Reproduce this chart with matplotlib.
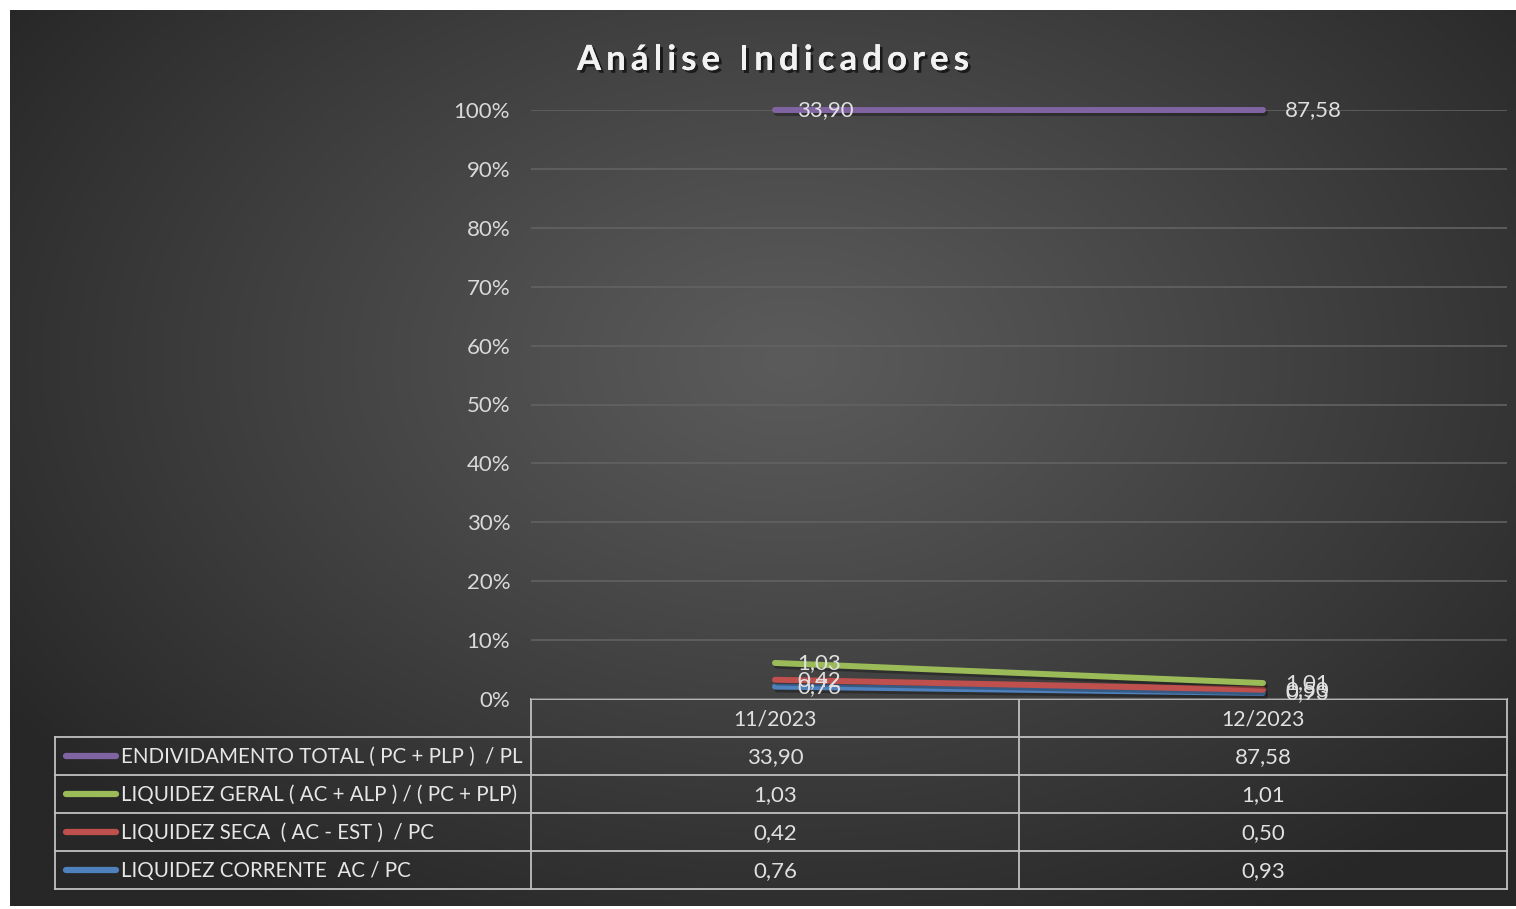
import numpy as np
import matplotlib
matplotlib.use('Agg')
import matplotlib.pyplot as plt
import matplotlib.patheffects as pe
import matplotlib.transforms as mtransforms
from matplotlib.textpath import TextPath
from matplotlib.font_manager import FontProperties

# ---------------- data ----------------
categories = ['11/2023', '12/2023']
series_names = [
    'ENDIVIDAMENTO TOTAL ( PC + PLP )  / PL',
    'LIQUIDEZ GERAL ( AC + ALP ) / ( PC + PLP)',
    'LIQUIDEZ SECA  ( AC - EST )  / PC',
    'LIQUIDEZ CORRENTE  AC / PC',
]
endividamento_total = [33.90, 87.58]
liquidez_geral = [1.03, 1.01]
liquidez_seca = [0.42, 0.50]
liquidez_corrente = [0.76, 0.93]
y_tick_values = [0, 10, 20, 30, 40, 50, 60, 70, 80, 90, 100]
title = 'Análise Indicadores'

series_values = [endividamento_total, liquidez_geral, liquidez_seca, liquidez_corrente]
series_colors = ['#8064a2', '#9bbb59', '#c0504d', '#4f81bd']

FONT = ['Lato', 'DejaVu Sans']
plt.rcParams['font.family'] = FONT

W, H = 1516, 909
fig = plt.figure(figsize=(W / 100, H / 100), dpi=100)
fig.patch.set_facecolor('white')

# background axes in pixel coords (y down)
bg = fig.add_axes([0, 0, 1, 1])
bg.set_xlim(0, W)
bg.set_ylim(H, 0)
bg.axis('off')

gx0, gx1, gy0, gy1 = 10, 1516, 10, 906
nx, ny = 400, 240
xx, yy = np.meshgrid(np.linspace(gx0, gx1, nx), np.linspace(gy0, gy1, ny))
r = np.sqrt(((xx - 790) / 950) ** 2 + ((yy - 360) / 640) ** 2)
r = np.clip(r, 0, 1)
light, dark = 0x5b / 255, 0x27 / 255
val = light - (light - dark) * r ** 1.1
img = np.dstack([val, val, val])
bg.imshow(img, extent=(gx0, gx1, gy1, gy0), aspect='auto', interpolation='bilinear', zorder=0)

# ---------------- main plot ----------------
px_left, px_right, px_top, px_bottom = 531, 1507, 110, 699
ax = fig.add_axes([px_left / W, 1 - px_bottom / H, (px_right - px_left) / W, (px_bottom - px_top) / H])
ax.set_facecolor('none')
ax.set_xlim(-0.5, len(categories) - 0.5)
ax.set_ylim(0, 1)
for s in ax.spines.values():
    s.set_visible(False)
ax.set_xticks([])
ax.set_yticks([v / 100 for v in y_tick_values])
ax.set_yticklabels([f'{v}%' for v in y_tick_values])
ax.tick_params(axis='y', length=0, pad=15, labelsize=16, labelcolor='#d9d9d9')
ax.grid(axis='y', color='#626262', lw=1.2)
ax.set_axisbelow(True)

# 100% stacked line chart: stack from the bottom series upward
x = np.arange(len(categories))
vals = np.array(series_values[::-1], dtype=float)  # corrente, seca, geral, endividamento
totals = vals.sum(axis=0)
cum = np.cumsum(vals, axis=0) / totals
colors_bottom_up = series_colors[::-1]

shadow = [pe.SimpleLineShadow(offset=(1.5, -2), shadow_color='black', alpha=0.3), pe.Normal()]
for i in range(len(vals)):
    ax.plot(x, cum[i], color=colors_bottom_up[i], lw=4.3, solid_capstyle='round',
            zorder=3 + i, path_effects=shadow, clip_on=False)
for i in range(len(vals)):
    for j in range(len(x)):
        ax.annotate(f'{vals[i][j]:.2f}'.replace('.', ','), (x[j], cum[i][j]),
                    xytext=(22, 0), textcoords='offset pixels', ha='left', va='center',
                    fontsize=16, color='#e0e0e0', zorder=10, annotation_clip=False)

# title with letter spacing
tfp = FontProperties(family=FONT, weight='bold', size=25)
def adv(s):
    if s == ' ':
        return TextPath((0, 0), 'x x', prop=tfp).get_extents().width - 2 * TextPath((0, 0), 'x', prop=tfp).get_extents().width
    return TextPath((0, 0), 'x' + s + 'x', prop=tfp).get_extents().width - TextPath((0, 0), 'xx', prop=tfp).get_extents().width
scale = 100 / 72.0
advances = [adv(c) * scale for c in title]
target_left, target_right = 577, 969
natural = sum(advances)
spacing = (target_right - target_left - natural) / (len(title) - 1)
cx = target_left
tpe = [pe.withSimplePatchShadow(offset=(2, -2), shadow_rgbFace='black', alpha=0.6), pe.Normal()]
for c, a in zip(title, advances):
    if c != ' ':
        bg.text(cx + a / 2, 70, c, ha='center', va='baseline', fontproperties=tfp,
                color='#f2f2f2', zorder=5, path_effects=tpe)
    cx += a + spacing

# ---------------- data table ----------------
lc = '#c0c0c0'
lw = 1.3
row_edges = [699, 737, 775, 813, 851, 889]
col_x = [55, 531, 1019, 1507]
bg.plot([531, 1507], [699, 699], color=lc, lw=lw, zorder=6)
for y in row_edges[1:]:
    bg.plot([55, 1507], [y, y], color=lc, lw=lw, zorder=6)
bg.plot([55, 55], [737, 889], color=lc, lw=lw, zorder=6)
for cxl in col_x[1:]:
    bg.plot([cxl, cxl], [699, 889], color=lc, lw=lw, zorder=6)

blend = mtransforms.blended_transform_factory(ax.transData, bg.transData)
for j, c in enumerate(categories):
    fig.text(j, (row_edges[0] + row_edges[1]) / 2 + 1, c, transform=blend, ha='center', va='center',
             fontsize=15.3, color='#e0e0e0', zorder=7)
for i, (name, values, color) in enumerate(zip(series_names, series_values, series_colors)):
    yc = (row_edges[i + 1] + row_edges[i + 2]) / 2
    bg.plot([66, 116], [yc, yc], color=color, lw=4.5, solid_capstyle='round', zorder=7)
    bg.text(121, yc + 1, name, ha='left', va='center', fontsize=14.8, color='#e6e6e6', zorder=7)
    for j, v in enumerate(values):
        fig.text(j, yc + 1, f'{v:.2f}'.replace('.', ','), transform=blend, ha='center', va='center',
                 fontsize=16, color='#e0e0e0', zorder=7)

fig.savefig('out.png', dpi=100, facecolor=fig.get_facecolor())
